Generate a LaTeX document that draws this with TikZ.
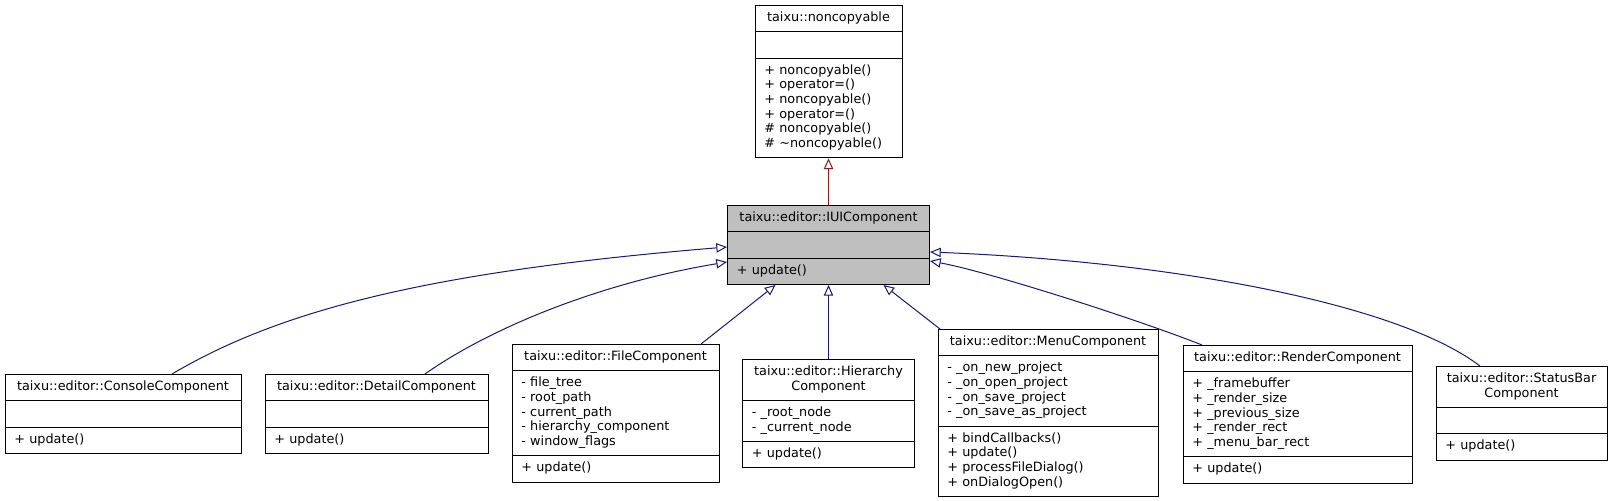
\documentclass[tikz,border=0pt]{standalone}
\usepackage{fontspec}
\setmainfont{DejaVu Sans}
\usetikzlibrary{shapes.multipart,arrows.meta,calc}
\definecolor{edgeblue}{HTML}{191970}
\definecolor{edgered}{HTML}{8B1A1A}
\definecolor{nodegray}{HTML}{BFBFBF}
\hyphenpenalty=10000
\tikzset{
  umlclass/.style={draw=black, line width=0.75pt, rectangle split, rectangle split parts=3,
    text width=#1, inner xsep=7pt, inner ysep=4pt, align=left, anchor=north,
    font=\fontsize{9.6}{11}\selectfont},
  publicedge/.style={draw=edgeblue, line width=0.75pt, -{Triangle[open,length=8pt,width=7pt]}},
  privateedge/.style={draw=edgered, line width=0.75pt, -{Triangle[open,length=8pt,width=7pt]}}
}
\begin{document}
\begin{tikzpicture}[x=0.75pt,y=-0.75pt]
\useasboundingbox (0,0) rectangle (1615,500);
\node[umlclass=96.25pt] (nc) at (828.5,5) {\centering\strut taixu::noncopyable\par
  \nodepart{two}\strut
  \nodepart{three}\strut + noncopyable()\\ + operator=()\\ + noncopyable()\\ + operator=()\\ \# noncopyable()\\ \# \textasciitilde noncopyable()\strut};
\node[umlclass=137.5pt, fill=nodegray] (iui) at (828.5,205) {\centering\strut taixu::editor::IUIComponent\par
  \nodepart{two}\strut
  \nodepart{three}\strut + update()};
\node[umlclass=163pt] (console) at (123,374) {\centering\strut taixu::editor::ConsoleComponent\par
  \nodepart{two}\strut
  \nodepart{three}\strut + update()};
\node[umlclass=153.25pt] (detail) at (376.5,374) {\centering\strut taixu::editor::DetailComponent\par
  \nodepart{two}\strut
  \nodepart{three}\strut + update()};
\node[umlclass=141.25pt] (file) at (615.5,344) {\centering\strut taixu::editor::FileComponent\par
  \nodepart{two}\strut - file\_tree\\ - root\_path\\ - current\_path\\ - hierarchy\_component\\ - window\_flags\strut
  \nodepart{three}\strut + update()};
\node[umlclass=115pt] (hier) at (828.5,359) {\centering\strut taixu::editor::Hierarchy\\ Component\strut\par
  \nodepart{two}\strut - \_root\_node\\ - \_current\_node\strut
  \nodepart{three}\strut + update()};
\node[umlclass=151pt] (menu) at (1048,329) {\centering\strut taixu::editor::MenuComponent\par
  \nodepart{two}\strut - \_on\_new\_project\\ - \_on\_open\_project\\ - \_on\_save\_project\\ - \_on\_save\_as\_project\strut
  \nodepart{three}\strut + bindCallbacks()\\ + update()\\ + processFileDialog()\\ + onDialogOpen()\strut};
\node[umlclass=157.75pt] (render) at (1297.5,345) {\centering\strut taixu::editor::RenderComponent\par
  \nodepart{two}\strut + \_framebuffer\\ + \_render\_size\\ + \_previous\_size\\ + \_render\_rect\\ + \_menu\_bar\_rect\strut
  \nodepart{three}\strut + update()};
\node[umlclass=114.25pt] (status) at (1521.5,366) {\centering\strut taixu::editor::StatusBar\\ Component\strut\par
  \nodepart{two}\strut
  \nodepart{three}\strut + update()};
\draw[privateedge] (iui.north) -- (nc.south);
\draw[publicedge] ($(console.north)+(49,0)$) .. controls (277,312) and (422,272) .. ($(iui.north west)+(0,42)$);
\draw[publicedge] ($(detail.north)+(48.5,0)$) .. controls (490,328) and (600,283) .. ($(iui.north west)+(0,57)$);
\draw[publicedge] ($(file.north)+(85.5,0)$) -- ($(iui.south)+(-53,0)$);
\draw[publicedge] (hier.north) -- (iui.south);
\draw[publicedge] ($(menu.north)+(-108,0)$) -- ($(iui.south)+(55,0)$);
\draw[publicedge] ($(render.north)+(-95.5,0)$) .. controls (1142,321) and (990,272) .. ($(iui.north east)+(0,56)$);
\draw[publicedge] ($(status.north)+(-41.5,0)$) .. controls (1400,305) and (1180,262) .. ($(iui.north east)+(0,47)$);
\end{tikzpicture}
\end{document}
